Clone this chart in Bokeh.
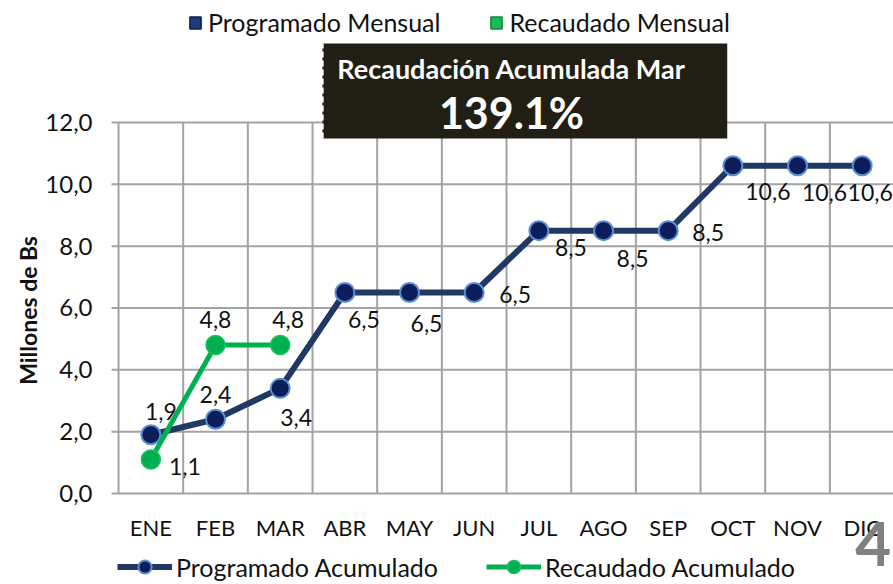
from math import pi
from bokeh.plotting import figure
from bokeh.models import (Range1d, ColumnDataSource, LabelSet, Label, Legend, LegendItem)
from bokeh.core.properties import value
from bokeh.embed import file_html
from bokeh.resources import INLINE

# ---------------- data ----------------
months = ["ENE", "FEB", "MAR", "ABR", "MAY", "JUN", "JUL", "AGO", "SEP", "OCT", "NOV", "DIC"]
programado_acum = [1.9, 2.4, 3.4, 6.5, 6.5, 6.5, 8.5, 8.5, 8.5, 10.6, 10.6, 10.6]
recaudado_acum = [1.1, 4.8, 4.8]
y_ticks = [0, 2, 4, 6, 8, 10, 12]
title_line1 = "Recaudación Acumulada Mar"
title_line2 = "139.1%"
y_title = "Millones de Bs"
legend_top = ["Programado Mensual", "Recaudado Mensual"]
legend_bottom = ["Programado Acumulado", "Recaudado Acumulado"]
page_number = "4"

# ---------------- layout-only label offsets (pixels, +x right, +y up) ----------------
prog_dx = [10, 0, 16, 19, 17, 41, 32, 29, 40, 35, 27, 8]
prog_dy = [23, 25, -29, -27, -31, -2, -17, -28, -2, -26, -27, -27]
rec_dx = [34, 0, 8]
rec_dy = [-7, 26, 26]


def fmt(v):
    return f"{v:.1f}".replace(".", ",")


FONT = "Lato"
TXT = "#111111"
GRID = "#A3A3A3"
NAN = float("nan")
idx = list(range(len(months)))
ridx = idx[:len(recaudado_acum)]
x_lo, x_hi = idx[0] - 0.5, idx[-1] + 0.5
y_lo, y_hi = y_ticks[0], y_ticks[-1]

# the frame covers the whole canvas so that the titles and legends are not clipped
p = figure(width=893, height=584, output_backend="svg", toolbar_location=None,
           x_range=Range1d(-2.325, 11.484), y_range=Range1d(-2.943, 15.944),
           x_axis_type=None, y_axis_type=None,
           min_border_left=0, min_border_right=0, min_border_top=0, min_border_bottom=0)
p.outline_line_color = None
p.xgrid.visible = False
p.ygrid.visible = False
p.background_fill_color = "white"
p.border_fill_color = "white"

# ---------------- grid (category boundaries and value ticks) ----------------
bounds = [i - 0.5 for i in range(len(months) + 1)]
p.segment(x0=bounds, y0=[y_lo] * len(bounds), x1=bounds, y1=[y_hi] * len(bounds),
          line_color=GRID, line_width=2)
tick_len = 7 / 64.67
p.segment(x0=[x_lo - tick_len] * len(y_ticks), y0=y_ticks, x1=[x_hi] * len(y_ticks), y1=y_ticks,
          line_color=GRID, line_width=2)

# y tick labels
ysrc = ColumnDataSource(dict(x=[x_lo] * len(y_ticks), y=y_ticks, t=[fmt(v) for v in y_ticks]))
p.add_layout(LabelSet(x="x", y="y", text="t", source=ysrc, x_offset=-26,
                      text_align="right", text_baseline="middle",
                      text_font=value(FONT), text_font_size="24px", text_color=TXT))
# month labels
xsrc = ColumnDataSource(dict(x=idx, y=[y_lo] * len(idx), t=months))
p.add_layout(LabelSet(x="x", y="y", text="t", source=xsrc, y_offset=-34,
                      text_align="center", text_baseline="middle",
                      text_font=value(FONT), text_font_size="22px", text_color=TXT))
# y axis title
p.add_layout(Label(x=-1.905, y=5.92, text=y_title, angle=pi / 2,
                   text_align="center", text_baseline="middle",
                   text_font=FONT, text_font_style="bold", text_font_size="23px", text_color=TXT))

# ---------------- title box ----------------
p.quad(left=[2.653], right=[8.913], bottom=[11.483], top=[14.555],
       fill_color="#211E13", line_color=None)
p.segment(x0=[2.653], y0=[11.483], x1=[2.653], y1=[14.555],
          line_color="white", line_dash="6 3", line_width=2.5)
p.add_layout(Label(x=5.577, y=13.746, text=title_line1, text_align="center", text_baseline="middle",
                   text_font=FONT, text_font_style="bold", text_font_size="27px", text_color="white"))
p.add_layout(Label(x=5.577, y=12.32, text=title_line2, text_align="center", text_baseline="middle",
                   text_font=FONT, text_font_style="bold", text_font_size="43px", text_color="white"))

# ---------------- series ----------------
prog_src = ColumnDataSource(dict(x=idx, y=programado_acum, t=[fmt(v) for v in programado_acum],
                                 dx=prog_dx, dy=prog_dy))
rec_src = ColumnDataSource(dict(x=ridx, y=recaudado_acum, t=[fmt(v) for v in recaudado_acum],
                                dx=rec_dx, dy=rec_dy))

prog_line = p.line("x", "y", source=prog_src, line_color="#1F3864", line_width=6)
prog_pts = p.scatter("x", "y", source=prog_src, size=19, fill_color="#0B1E5B",
                     line_color="#5B8FD0", line_width=2)
rec_line = p.line("x", "y", source=rec_src, line_color="#00B050", line_width=5)
rec_pts = p.scatter("x", "y", source=rec_src, size=19, fill_color="#00B050",
                    line_color="#19C060", line_width=1.5)

for src in (prog_src, rec_src):
    p.add_layout(LabelSet(x="x", y="y", text="t", source=src, x_offset="dx", y_offset="dy",
                          text_align="center", text_baseline="middle",
                          text_font=value(FONT), text_font_size="23px", text_color=TXT))

# legend-only renderers for the monthly series (no marks of their own in this chart)
q_prog = p.quad(left=[NAN], right=[NAN], top=[NAN], bottom=[NAN],
                fill_color="#1F3A7A", line_color="#0B1E5B", line_width=1.5)
q_rec = p.quad(left=[NAN], right=[NAN], top=[NAN], bottom=[NAN],
               fill_color="#1DB954", line_color="#0E8A3A", line_width=1.5)

top_leg = Legend(items=[LegendItem(label=legend_top[0], renderers=[q_prog]),
                        LegendItem(label=legend_top[1], renderers=[q_rec])],
                 orientation="horizontal", location=(188, 547),
                 glyph_width=14, glyph_height=15, label_standoff=6, spacing=49,
                 padding=0, margin=0, background_fill_alpha=0, border_line_alpha=0,
                 label_text_font=FONT, label_text_font_size="25px", label_text_color=TXT)
p.add_layout(top_leg)

bot_leg = Legend(items=[LegendItem(label=legend_bottom[0], renderers=[prog_line, prog_pts]),
                        LegendItem(label=legend_bottom[1], renderers=[rec_line, rec_pts])],
                 orientation="horizontal", location=(117, 1),
                 glyph_width=55, glyph_height=33, label_standoff=4, spacing=48,
                 padding=0, margin=0, background_fill_alpha=0, border_line_alpha=0,
                 label_text_font=FONT, label_text_font_size="25px", label_text_color=TXT)
p.add_layout(bot_leg)

# page number
p.add_layout(Label(x=11.45, y=-0.906, text=page_number, text_align="right", text_baseline="top",
                   text_font=FONT, text_font_style="bold", text_font_size="62px",
                   text_color="#808080"))

open("out.html", "w").write(file_html(p, INLINE))
